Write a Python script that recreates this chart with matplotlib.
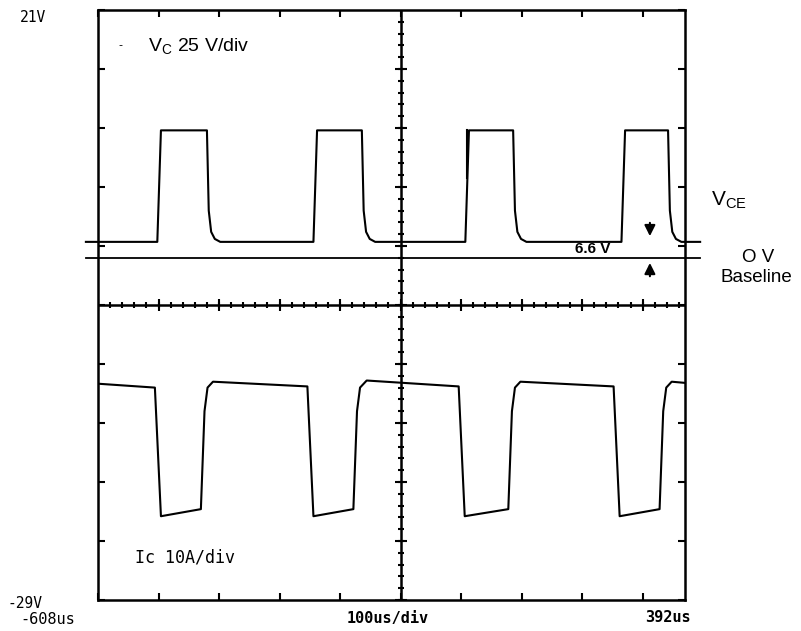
import numpy as np
import matplotlib
matplotlib.use('Agg')
import matplotlib.pyplot as plt

# screen: 100 us/div horizontally, 5 V/div vertically (scope units)
t_left, t_div, n_xdiv = -608, 100, 9.7
v_bottom, v_top, v_div = -29, 21, 5

# V_CE trace
vce_t = [-628, -510, -504, -428, -425, -421, -415, -406,
         -252, -246, -172, -169, -165, -159, -150,
         -1, 5, 78, 81, 85, 91, 100,
         257, 263, 334, 337, 341, 347, 356, 387]
vce_v = [1.35, 1.35, 10.8, 10.8, 4.0, 2.2, 1.6, 1.35,
         1.35, 10.8, 10.8, 4.0, 2.2, 1.6, 1.35,
         1.35, 10.8, 10.8, 4.0, 2.2, 1.6, 1.35,
         1.35, 10.8, 10.8, 4.0, 2.2, 1.6, 1.35, 1.35]
glitch_t = [2, 2]
glitch_v = [10.8, 6.8]

# Ic trace
ic_t = [-628, -514, -504, -438, -432, -427, -418,
        -262, -252, -186, -180, -175, -164,
        -12, -2, 70, 76, 81, 90,
        244, 254, 320, 326, 331, 340, 362]
ic_v = [-10.6, -11.0, -21.9, -21.3, -13.0, -11.0, -10.5,
        -10.9, -21.9, -21.3, -13.0, -11.0, -10.4,
        -10.9, -21.9, -21.3, -13.0, -11.0, -10.5,
        -10.9, -21.9, -21.3, -13.0, -11.0, -10.5, -10.6]

zero_v = 0.0

fig = plt.figure(figsize=(8.01, 6.31), dpi=100)
ax = fig.add_axes([98 / 801, 31 / 631, 587 / 801, 590 / 631])
t_right = t_left + n_xdiv * t_div
ax.set_xlim(t_left, t_right)
ax.set_ylim(v_bottom, v_top)
for s in ax.spines.values():
    s.set_linewidth(1.8)
ax.set_xticks(np.arange(t_left, t_right, t_div))
ax.set_yticks(np.arange(v_bottom, v_top + 1, v_div))
ax.set_xticklabels([])
ax.set_yticklabels([])
ax.tick_params(direction='in', length=5, width=1.5, top=True, right=True)

# center graticule with minor marks
t_c = t_left + 5 * t_div
v_c = (v_top + v_bottom) / 2
ax.axvline(t_c, color='black', lw=1.8)
ax.axhline(v_c, color='black', lw=1.8)
minor_t = np.arange(t_left, t_right, t_div / 5)
minor_v = np.arange(v_bottom, v_top, v_div / 5)
ax.plot(minor_t, np.full(len(minor_t), v_c), ls='none', marker='|', ms=5, mew=1.5, color='black')
ax.plot(np.full(len(minor_v), t_c), minor_v, ls='none', marker='_', ms=5, mew=1.5, color='black')
major_t = np.arange(t_left, t_right, t_div)
major_v = np.arange(v_bottom, v_top, v_div)
ax.plot(major_t, np.full(len(major_t), v_c), ls='none', marker='|', ms=9, mew=1.5, color='black')
ax.plot(np.full(len(major_v), t_c), major_v, ls='none', marker='_', ms=9, mew=1.5, color='black')

# 0 V baseline
ax.plot([-628, 387], [zero_v, zero_v], color='black', lw=1.3, clip_on=False)

ax.plot(vce_t, vce_v, color='black', lw=1.5, clip_on=False)
ax.plot(glitch_t, glitch_v, color='black', lw=1.5)
ax.plot(ic_t, ic_v, color='black', lw=1.5)

# arrows for 6.6 V offset
ax.annotate('', xy=(304, 1.6), xytext=(304, 3.2),
            arrowprops=dict(arrowstyle='-|>', color='black', lw=1.5, mutation_scale=16),
            annotation_clip=False)
ax.annotate('', xy=(304, zero_v - 0.2), xytext=(304, -1.8),
            arrowprops=dict(arrowstyle='-|>', color='black', lw=1.5, mutation_scale=16),
            annotation_clip=False)


def px(x, y):
    return x / 801, 1 - y / 631


mono = 'DejaVu Sans Mono'
sans = 'Liberation Sans'
fig.text(*px(20, 18), '21V', fontsize=10.5, family=mono, va='center')
fig.text(*px(8, 604), '-29V', fontsize=10.5, family=mono, va='center')
fig.text(*px(20, 619), '-608us', fontsize=11, family=mono, va='center')
fig.text(*px(388, 618), '100us/div', fontsize=11, family=mono, weight='bold', va='center', ha='center')
fig.text(*px(668, 617), '392us', fontsize=11, family=mono, weight='bold', va='center', ha='center')
fig.text(*px(135, 558), 'Ic 10A/div', fontsize=12, family=mono, va='center')
fig.text(*px(148, 47), r'V$_\mathregular{C}$ 25 V/div', fontsize=14, family=sans, va='center')
fig.text(*px(711, 200), r'V$_\mathregular{CE}$', fontsize=15, family=sans, va='center')
fig.text(*px(742, 257), 'O V', fontsize=13.5, family=sans, va='center')
fig.text(*px(720, 277), 'Baseline', fontsize=13.5, family=sans, va='center')
fig.text(*px(575, 249), '6.6 V', fontsize=11, family=sans, weight='bold', va='center')
fig.text(*px(118, 45), '-', fontsize=8, va='center')

fig.savefig('out.png', dpi=100)
